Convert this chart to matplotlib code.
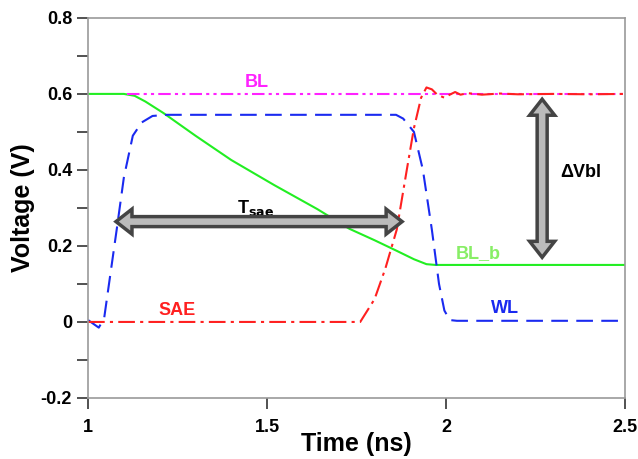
import numpy as np
import matplotlib.pyplot as plt
from matplotlib.patches import Polygon

plt.rcParams['font.family'] = ['Liberation Sans', 'DejaVu Sans']
plt.rcParams['font.weight'] = 'bold'

# BL (magenta)
bl_t = [1.11, 2.5]
bl_v = [0.6, 0.6]

# BL_b (green)
blb_t = [1.0, 1.10, 1.13, 1.16, 1.21, 1.30, 1.40, 1.52, 1.64, 1.73, 1.80, 1.86, 1.91, 1.945, 1.97, 2.5]
blb_v = [0.6, 0.6, 0.595, 0.58, 0.55, 0.49, 0.426, 0.36, 0.297, 0.245, 0.215, 0.188, 0.165, 0.152, 0.15, 0.15]

# WL (blue)
wl_t = [1.0, 1.015, 1.03, 1.045, 1.06, 1.08, 1.10, 1.125, 1.15, 1.18, 1.22, 1.86, 1.88, 1.91, 1.935, 1.96, 1.98, 1.995, 2.01, 2.03, 2.5]
wl_v = [0.005, -0.005, -0.015, 0.01, 0.11, 0.243, 0.38, 0.49, 0.525, 0.542, 0.545, 0.545, 0.535, 0.50, 0.40, 0.243, 0.10, 0.03, 0.005, 0.003, 0.003]

# SAE (red)
sae_t = [1.0, 1.76, 1.80, 1.83, 1.862, 1.89, 1.91, 1.93, 1.945, 1.96, 1.975, 1.995, 2.01, 2.025, 2.04, 2.06, 2.10, 2.15, 2.2, 2.3, 2.4, 2.5]
sae_v = [0.0, 0.0, 0.06, 0.14, 0.243, 0.40, 0.51, 0.59, 0.617, 0.612, 0.598, 0.59, 0.598, 0.605, 0.598, 0.602, 0.598, 0.601, 0.599, 0.600, 0.599, 0.6]

# annotation arrows (data endpoints)
tsae_start = (1.078, 0.264)
tsae_end = (1.877, 0.264)
dvbl_start = (2.268, 0.586)
dvbl_end = (2.268, 0.170)

fig = plt.figure(figsize=(6.38, 4.59), dpi=100)
ax = fig.add_axes([0.138, 0.133, 0.842, 0.828])

ax.plot(blb_t, blb_v, color='#22ee22', linewidth=1.5)
ax.plot(bl_t, bl_v, color='#ff22ff', linewidth=1.5, dashes=[6, 2, 1.5, 2, 1.5, 2])
ax.plot(wl_t, wl_v, color='#1a2af0', linewidth=1.5, dashes=[8, 4])
ax.plot(sae_t, sae_v, color='#ff2020', linewidth=1.5, dashes=[8, 2.5, 1.5, 2.5])

ax.set_xlim(1, 2.5)
ax.set_ylim(-0.2, 0.8)
ax.set_xticks([1, 1.5, 2, 2.5])
ax.set_xticklabels(['1', '1.5', '2', '2.5'])
ax.set_yticks([-0.2, 0, 0.2, 0.4, 0.6, 0.8])
ax.set_yticklabels(['-0.2', '0', '0.2', '0.4', '0.6', '0.8'])
ax.set_yticks(np.arange(-0.1, 0.8, 0.2), minor=True)
ax.tick_params(axis='both', which='both', direction='out', length=8, width=1.2,
               color='#333333', labelsize=13)
ax.tick_params(axis='x', pad=7)
for sp in ax.spines.values():
    sp.set_color('#999999')
    sp.set_linewidth(1.2)

ax.set_xlabel('Time (ns)', fontsize=18, fontweight='bold', labelpad=-3)
ax.set_ylabel('Voltage (V)', fontsize=18, fontweight='bold', labelpad=4)

# labels
ax.text(1.47, 0.63, 'BL', color='#ff22ff', fontsize=13, fontweight='bold', ha='center', va='center')
ax.text(1.25, 0.03, 'SAE', color='#ff2020', fontsize=13, fontweight='bold', ha='center', va='center')
ax.text(2.09, 0.18, 'BL_b', color='#88ee66', fontsize=13, fontweight='bold', ha='center', va='center')
ax.text(2.165, 0.035, 'WL', color='#1a2af0', fontsize=13, fontweight='bold', ha='center', va='center')
ax.text(1.467, 0.30, r'T$_{\mathbf{sae}}$', color='black', fontsize=13, fontweight='bold', ha='center', va='center')
ax.text(2.377, 0.392, 'ΔVbl', color='black', fontsize=13, fontweight='bold', ha='center', va='center')


def block_arrow(ax, p0, p1, shaft=10, head_w=25, head_l=16):
    # double headed fat arrow, sizes in pixels
    a = ax.transData.transform(p0)
    b = ax.transData.transform(p1)
    d = b - a
    L = np.hypot(*d)
    u = d / L
    n = np.array([-u[1], u[0]])
    hs, hw = shaft / 2, head_w / 2
    pts = [a,
           a + u * head_l + n * hw,
           a + u * head_l + n * hs,
           b - u * head_l + n * hs,
           b - u * head_l + n * hw,
           b,
           b - u * head_l - n * hw,
           b - u * head_l - n * hs,
           a + u * head_l - n * hs,
           a + u * head_l - n * hw]
    poly = Polygon(pts, closed=True, transform=None, fc='#bbbbbb', ec='#444444',
                   lw=2.5, joinstyle='miter', zorder=5)
    fig.add_artist(poly)


fig.canvas.draw()
block_arrow(ax, tsae_start, tsae_end)
block_arrow(ax, dvbl_start, dvbl_end)

fig.savefig('out.png', dpi=100)
